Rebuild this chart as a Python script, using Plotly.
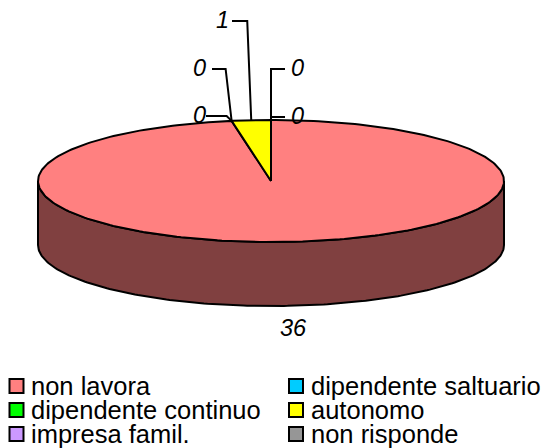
import numpy as np
import plotly.graph_objects as go

categories = ["non lavora", "dipendente saltuario", "dipendente continuo", "autonomo", "impresa famil.", "non risponde"]
values = [36, 0, 0, 1, 0, 0]
colors = ["#FF8080", "#00CCFF", "#00FF00", "#FFFF00", "#CC99FF", "#969696"]
side_colors = ["#804040", "#006680", "#008000", "#808000", "#664C80", "#4B4B4B"]

# Pie geometry (styling, in page pixels)
CX, CY, RX, RY, DEPTH = 271, 181, 233, 61, 64
FONT = "Liberation Sans, Arial, sans-serif"
VALUE_FS = 23.5
LEGEND_FS = 25.5
# For each slice: elbow y, elbow x offset, label-end x, label x (None = no leader line)
leaders = [None, (116, -5, 206, 199), (69, -6, 212, 199), (21, -4, 232, 222), (69, 0, 285, 297), (117, 0, 285, 297)]
legend_x = [16.5, 296, 16.5, 296, 16.5, 296]
legend_y = [386, 386, 410, 410, 434, 434]


def ell(deg, dy=0.0):
    a = np.radians(deg)
    return CX + RX * np.sin(a), CY - RY * np.cos(a) + dy


fig = go.Figure()
total = sum(values)
edges = np.concatenate([[0], np.cumsum(values)]) / total * 360.0

# side walls (front half only)
for i, v in enumerate(values):
    lo, hi = max(edges[i], 90), min(edges[i + 1], 270)
    if v > 0 and hi > lo:
        t = np.linspace(lo, hi, 200)
        x1, y1 = ell(t)
        x2, y2 = ell(t[::-1], DEPTH)
        fig.add_trace(go.Scatter(x=np.r_[x1, x2, x1[0]], y=np.r_[y1, y2, y1[0]], mode="lines", fill="toself",
                                 fillcolor=side_colors[i], line=dict(color="black", width=2), hoverinfo="skip"))

# top faces
for i, v in enumerate(values):
    if v > 0:
        t = np.linspace(edges[i], edges[i + 1], 300)
        x, y = ell(t)
        fig.add_trace(go.Scatter(x=np.r_[CX, x, CX], y=np.r_[CY, y, CY], mode="lines", fill="toself",
                                 fillcolor=colors[i], line=dict(color="black", width=2), hoverinfo="skip"))

# value labels and leader lines
annotations = []
for i, v in enumerate(values):
    mid = (edges[i] + edges[i + 1]) / 2
    ax, ay = ell(mid)
    if leaders[i] is None:
        lx, ly = ell(mid, DEPTH + 22)
        lx += 3
    else:
        ey, dx, ex, lx = leaders[i]
        ly = ey - 1
        fig.add_trace(go.Scatter(x=[ax, ax + dx, ex], y=[ay, ey, ey], mode="lines",
                                 line=dict(color="black", width=2), hoverinfo="skip"))
    annotations.append(dict(x=lx, y=ly, text=f"<i>{v}</i>", showarrow=False, xanchor="center", yanchor="middle",
                            font=dict(family=FONT, size=VALUE_FS, color="black")))

# legend
for i, name in enumerate(categories):
    fig.add_trace(go.Scatter(x=[legend_x[i]], y=[legend_y[i]], mode="markers",
                             marker=dict(symbol="square", size=14, color=colors[i], line=dict(color="black", width=2)),
                             hoverinfo="skip"))
    annotations.append(dict(x=int(legend_x[i]) + 13, y=legend_y[i], text=name, showarrow=False, xanchor="left",
                            yanchor="middle", font=dict(family=FONT, size=LEGEND_FS, color="black")))

fig.update_layout(
    width=544, height=448, autosize=False, showlegend=False, paper_bgcolor="white", plot_bgcolor="white",
    margin=dict(l=0, r=0, t=0, b=0), annotations=annotations,
    xaxis=dict(range=[0, 544], visible=False, fixedrange=True),
    yaxis=dict(range=[448, 0], visible=False, fixedrange=True),
)
# Remove the page's default 8 px margin so the figure fills the window exactly
fig.write_html("out.html", config=dict(displayModeBar=False),
               post_script="document.body.style.margin='0';")
